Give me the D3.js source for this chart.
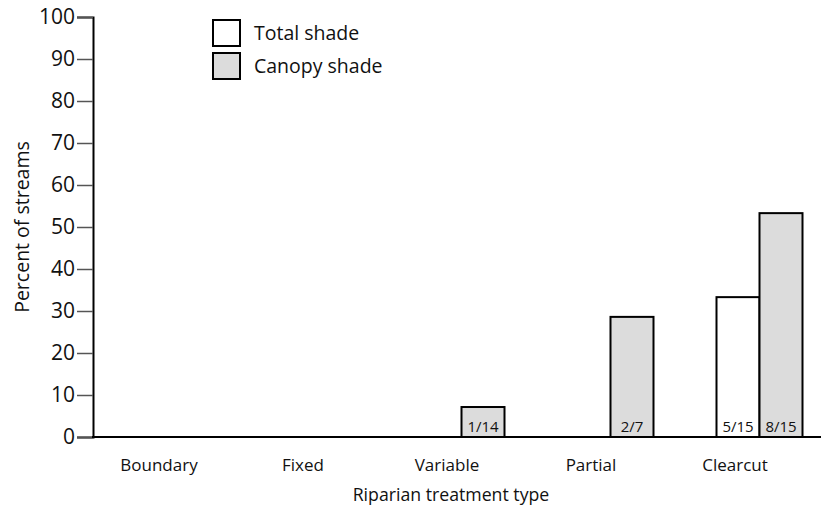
<html>
  <head>
    <meta charset="utf-8" />
    <title>Percent of streams by riparian treatment</title>
    <style>
      body { margin: 0; background: #fff; }
      text { font-family: "Open Sans", "Noto Sans", sans-serif; fill: #111; }
    </style>
  </head>
  <body>
    <script src="https://cdn.jsdelivr.net/npm/d3@7/dist/d3.min.js"></script>
    <script>
      const categories = ["Boundary", "Fixed", "Variable", "Partial", "Clearcut"];
      const series = ["Total shade", "Canopy shade"];
      const totalShade = [0, 0, 0, 0, 33.3];
      const canopyShade = [0, 0, 7.14, 28.6, 53.3];
      const totalLabels = ["", "", "", "", "5/15"];
      const canopyLabels = ["", "", "1/14", "2/7", "8/15"];
      const yTicks = [0, 10, 20, 30, 40, 50, 60, 70, 80, 90, 100];

      const width = 821;
      const height = 512;
      const fills = ["#ffffff", "#dcdcdc"];

      const svg = d3
        .select("body")
        .append("svg")
        .attr("width", width)
        .attr("height", height);

      const x = d3.scaleBand().domain(categories).range([89, 834]);
      const xLabel = d3.scalePoint().domain(categories).range([159, 735]);
      const sub = d3.scaleBand().domain(series).range([-43, 43]);
      const y = d3.scaleLinear().domain([0, 100]).range([437, 17]);

      // y axis
      const yAxis = svg
        .append("g")
        .attr("transform", "translate(93,0)")
        .call(d3.axisLeft(y).tickValues(yTicks).tickSize(16).tickPadding(2));
      yAxis.select(".domain").attr("stroke", "#000").attr("stroke-width", 2);
      yAxis.selectAll(".tick line").attr("stroke", "#555").attr("stroke-width", 1.5);
      yAxis
        .selectAll(".tick text")
        .attr("font-size", 21)
        .attr("fill", "#111")
        .attr("font-family", "Open Sans");

      // x axis baseline
      svg
        .append("line")
        .attr("x1", 92)
        .attr("x2", 821)
        .attr("y1", y(0))
        .attr("y2", y(0))
        .attr("stroke", "#000")
        .attr("stroke-width", 2);

      // category labels
      svg
        .selectAll(".cat")
        .data(categories)
        .join("text")
        .attr("class", "cat")
        .attr("x", (d) => xLabel(d))
        .attr("y", 471)
        .attr("text-anchor", "middle")
        .attr("font-size", 17)
        .text((d) => d);

      const rows = [];
      categories.forEach((c, i) => {
        rows.push({ cat: c, s: series[0], v: totalShade[i], label: totalLabels[i], fill: fills[0] });
        rows.push({ cat: c, s: series[1], v: canopyShade[i], label: canopyLabels[i], fill: fills[1] });
      });
      const drawn = rows.filter((d) => d.v > 0);

      const cx = (d) => x(d.cat) + x.bandwidth() / 2 + sub(d.s);

      svg
        .selectAll(".bar")
        .data(drawn)
        .join("rect")
        .attr("class", "bar")
        .attr("x", cx)
        .attr("y", (d) => y(d.v))
        .attr("width", sub.bandwidth())
        .attr("height", (d) => y(0) - y(d.v))
        .attr("fill", (d) => d.fill)
        .attr("stroke", "#000")
        .attr("stroke-width", 2);

      svg
        .selectAll(".blabel")
        .data(drawn)
        .join("text")
        .attr("class", "blabel")
        .attr("x", (d) => cx(d) + sub.bandwidth() / 2)
        .attr("y", y(0) - 5)
        .attr("text-anchor", "middle")
        .attr("font-size", 15)
        .text((d) => d.label);

      // legend
      const legend = svg
        .selectAll(".leg")
        .data(series)
        .join("g")
        .attr("class", "leg")
        .attr("transform", (d, i) => `translate(213,${20 + i * 33})`);
      legend
        .append("rect")
        .attr("width", 27)
        .attr("height", 26)
        .attr("fill", (d, i) => fills[i])
        .attr("stroke", "#000")
        .attr("stroke-width", 2);
      legend
        .append("text")
        .attr("x", 41)
        .attr("y", 20)
        .attr("font-size", 19.5)
        .text((d) => d);

      // axis titles
      svg
        .append("text")
        .attr("transform", "translate(29,227) rotate(-90)")
        .attr("text-anchor", "middle")
        .attr("font-size", 19.5)
        .text("Percent of streams");

      svg
        .append("text")
        .attr("x", 451)
        .attr("y", 501)
        .attr("text-anchor", "middle")
        .attr("font-size", 17.7)
        .text("Riparian treatment type");
    </script>
  </body>
</html>
